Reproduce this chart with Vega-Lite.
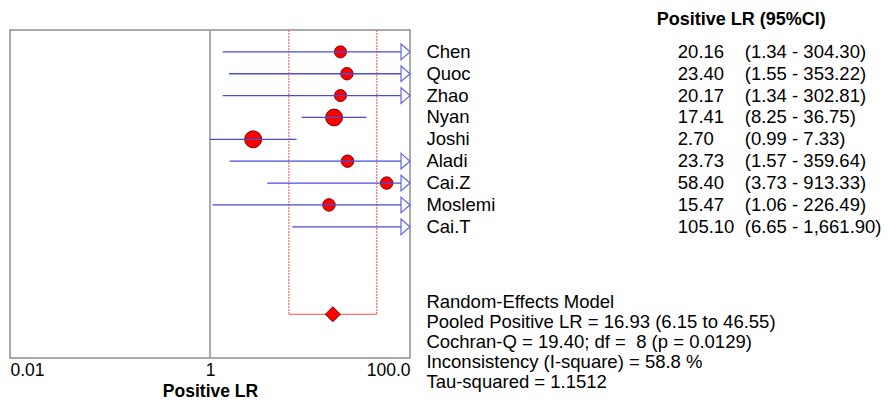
{
  "$schema": "https://vega.github.io/schema/vega-lite/v6.json",
  "padding": {"left": 9, "top": 10, "right": 0, "bottom": 0},
  "background": "white",
  "spacing": 0,
  "config": {"view": {"stroke": null}, "font": "Liberation Sans"},
  "datasets": {
    "studies": [
      {"study": "Chen", "estimate": 20.16, "lower": 1.34, "upper": 304.30, "row": 1, "weight": 7.4, "est_label": "20.16", "ci_label": "(1.34 - 304.30)"},
      {"study": "Quoc", "estimate": 23.40, "lower": 1.55, "upper": 353.22, "row": 2, "weight": 7.9, "est_label": "23.40", "ci_label": "(1.55 - 353.22)"},
      {"study": "Zhao", "estimate": 20.17, "lower": 1.34, "upper": 302.81, "row": 3, "weight": 7.4, "est_label": "20.17", "ci_label": "(1.34 - 302.81)"},
      {"study": "Nyan", "estimate": 17.41, "lower": 8.25, "upper": 36.75, "row": 4, "weight": 14.5, "est_label": "17.41", "ci_label": "(8.25 - 36.75)"},
      {"study": "Joshi", "estimate": 2.70, "lower": 0.99, "upper": 7.33, "row": 5, "weight": 14.8, "est_label": "2.70", "ci_label": "(0.99 - 7.33)"},
      {"study": "Aladi", "estimate": 23.73, "lower": 1.57, "upper": 359.64, "row": 6, "weight": 7.9, "est_label": "23.73", "ci_label": "(1.57 - 359.64)"},
      {"study": "Cai.Z", "estimate": 58.40, "lower": 3.73, "upper": 913.33, "row": 7, "weight": 7.9, "est_label": "58.40", "ci_label": "(3.73 - 913.33)"},
      {"study": "Moslemi", "estimate": 15.47, "lower": 1.06, "upper": 226.49, "row": 8, "weight": 8.0, "est_label": "15.47", "ci_label": "(1.06 - 226.49)"},
      {"study": "Cai.T", "estimate": 105.10, "lower": 6.65, "upper": 1661.90, "row": 9, "weight": 7.8, "est_label": "105.10", "ci_label": "(6.65 - 1,661.90)"}
    ],
    "pooled": [{"est": 16.93, "lo": 6.15, "hi": 46.55, "row": 13, "top": 0}],
    "frame": [{"lo": 0.01, "hi": 100, "top": 0, "bottom": 15, "ref": 1}],
    "headline": [{"text": "Positive LR (95%CI)", "row": -0.47}],
    "summary": [
      {"text": "Random-Effects Model", "row": 12.44},
      {"text": "Pooled Positive LR = 16.93 (6.15 to 46.55)", "row": 13.36},
      {"text": "Cochran-Q = 19.40; df = \u00a08 (p = 0.0129)", "row": 14.28},
      {"text": "Inconsistency (I-square) = 58.8 %", "row": 15.2},
      {"text": "Tau-squared = 1.1512", "row": 16.12}
    ]
  },
  "hconcat": [
    {
      "width": 400,
      "height": 328,
      "layer": [
        {
          "data": {"name": "frame"},
          "mark": {"type": "rect", "fill": "white", "fillOpacity": 0, "stroke": "#8f8f8f", "strokeWidth": 1.5},
          "encoding": {
            "x": {
              "field": "lo", "type": "quantitative", "title": "Positive LR",
              "scale": {"type": "log", "domain": [0.01, 100], "clamp": true, "nice": false},
              "axis": {
                "values": [0.01, 1, 100],
                "labelExpr": "datum.value == 100 ? '100.0' : (datum.value == 1 ? '1' : '0.01')",
                "labelFlush": true, "ticks": false, "domain": false, "grid": false,
                "labelFontSize": 17.5, "labelColor": "black", "labelPadding": 3, "labelFont": "Liberation Sans",
                "titleFontSize": 17.5, "titleFontWeight": "bold", "titleColor": "black", "titlePadding": 4, "titleFont": "Liberation Sans"
              }
            },
            "x2": {"field": "hi"},
            "y": {"field": "top", "type": "quantitative", "scale": {"domain": [0, 15], "reverse": true, "nice": false, "zero": false}, "axis": null},
            "y2": {"field": "bottom"}
          }
        },
        {
          "data": {"name": "frame"},
          "mark": {"type": "rule", "color": "#8f8f8f", "strokeWidth": 1.5},
          "encoding": {
            "x": {"field": "ref", "type": "quantitative", "title": "Positive LR"},
            "y": {"field": "top", "type": "quantitative"},
            "y2": {"field": "bottom"}
          }
        },
        {
          "data": {"name": "pooled"},
          "transform": [{"fold": ["lo", "hi"], "as": ["bound", "value"]}],
          "mark": {"type": "rule", "color": "#ff4d4d", "strokeWidth": 1, "strokeDash": [2, 1]},
          "encoding": {
            "x": {"field": "value", "type": "quantitative", "title": "Positive LR"},
            "y": {"field": "top", "type": "quantitative"},
            "y2": {"field": "row"}
          }
        },
        {
          "data": {"name": "pooled"},
          "mark": {"type": "rule", "color": "#ff4d4d", "strokeWidth": 1},
          "encoding": {
            "x": {"field": "lo", "type": "quantitative", "title": "Positive LR"},
            "x2": {"field": "hi"},
            "y": {"field": "row", "type": "quantitative"}
          }
        },
        {
          "data": {"name": "studies"},
          "transform": [{"filter": "datum.estimate <= 100"}],
          "mark": {"type": "point", "shape": "circle", "filled": true, "fill": "#ff0000", "stroke": "#7a0000", "strokeWidth": 1, "opacity": 1},
          "encoding": {
            "x": {"field": "estimate", "type": "quantitative", "title": "Positive LR"},
            "y": {"field": "row", "type": "quantitative"},
            "size": {"field": "weight", "type": "quantitative", "scale": {"domain": [0, 20], "range": [0, 390]}, "legend": null}
          }
        },
        {
          "data": {"name": "studies"},
          "mark": {"type": "rule", "color": "#4b4bdc", "strokeWidth": 1.3},
          "encoding": {
            "x": {"field": "lower", "type": "quantitative", "title": "Positive LR"},
            "x2": {"field": "upper"},
            "y": {"field": "row", "type": "quantitative"}
          }
        },
        {
          "data": {"name": "studies"},
          "transform": [{"filter": "datum.upper > 100"}],
          "mark": {"type": "point", "shape": "M-2.3,-2L0,0L-2.3,2Z", "filled": true, "fill": "white", "stroke": "#6464e2", "strokeWidth": 1.2, "size": 61, "opacity": 1},
          "encoding": {
            "x": {"field": "upper", "type": "quantitative", "title": "Positive LR"},
            "y": {"field": "row", "type": "quantitative"}
          }
        },
        {
          "data": {"name": "pooled"},
          "mark": {"type": "point", "shape": "diamond", "filled": true, "fill": "#ff0000", "stroke": "#7a0000", "strokeWidth": 1, "size": 225, "opacity": 1},
          "encoding": {
            "x": {"field": "est", "type": "quantitative", "title": "Positive LR"},
            "y": {"field": "row", "type": "quantitative"}
          }
        }
      ]
    },
    {
      "width": 478,
      "height": 328,
      "layer": [
        {
          "data": {"name": "headline"},
          "mark": {"type": "text", "align": "left", "baseline": "middle", "fontSize": 18, "fontWeight": "bold", "color": "black"},
          "encoding": {
            "x": {"datum": 51.0, "type": "quantitative", "scale": {"domain": [0, 100], "nice": false, "zero": false}, "axis": null},
            "y": {"field": "row", "type": "quantitative", "scale": {"domain": [0, 15], "reverse": true, "nice": false, "zero": false}, "axis": null},
            "text": {"field": "text", "type": "nominal"}
          }
        },
        {
          "data": {"name": "studies"},
          "mark": {"type": "text", "align": "left", "baseline": "middle", "fontSize": 18.5, "color": "black"},
          "encoding": {
            "x": {"datum": 2.8, "type": "quantitative"},
            "y": {"field": "row", "type": "quantitative"},
            "text": {"field": "study", "type": "nominal"}
          }
        },
        {
          "data": {"name": "studies"},
          "mark": {"type": "text", "align": "left", "baseline": "middle", "fontSize": 18.5, "color": "black"},
          "encoding": {
            "x": {"datum": 55.4, "type": "quantitative"},
            "y": {"field": "row", "type": "quantitative"},
            "text": {"field": "est_label", "type": "nominal"}
          }
        },
        {
          "data": {"name": "studies"},
          "mark": {"type": "text", "align": "left", "baseline": "middle", "fontSize": 18.5, "color": "black"},
          "encoding": {
            "x": {"datum": 69.4, "type": "quantitative"},
            "y": {"field": "row", "type": "quantitative"},
            "text": {"field": "ci_label", "type": "nominal"}
          }
        },
        {
          "data": {"name": "summary"},
          "mark": {"type": "text", "align": "left", "baseline": "middle", "fontSize": 18.5, "color": "black"},
          "encoding": {
            "x": {"datum": 2.8, "type": "quantitative"},
            "y": {"field": "row", "type": "quantitative"},
            "text": {"field": "text", "type": "nominal"}
          }
        }
      ]
    }
  ]
}
